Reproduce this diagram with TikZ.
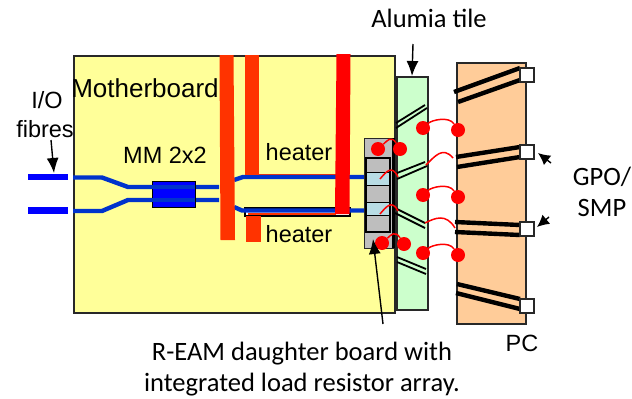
\documentclass[tikz,border=0pt]{standalone}
\usepackage{fontspec}
\setmainfont{Liberation Sans}
\newfontfamily\notefont{Carlito}
\usetikzlibrary{arrows.meta,calc}
\definecolor{boardyellow}{RGB}{255,255,153}
\definecolor{tilegreen}{RGB}{204,255,204}
\definecolor{pcorange}{RGB}{255,204,153}
\definecolor{edgegray}{RGB}{40,40,40}
\definecolor{heaterorange}{RGB}{255,51,0}
\definecolor{fibreblue}{RGB}{0,51,204}
\definecolor{cellblue}{RGB}{184,220,228}
\definecolor{cellgray}{RGB}{190,190,190}

\begin{document}
\begin{tikzpicture}[
  x=1pt, y=-1pt,
  lbl/.style={font=\fontsize{23.5}{29}\selectfont, inner sep=0pt, align=center},
  note/.style={font=\notefont\fontsize{26.5}{31.5}\selectfont, inner sep=0pt, align=center},
  plate/.style={draw=edgegray, line width=1.6pt, anchor=north west, inner sep=0pt, minimum width=#1},
  arr/.style={-{Latex[length=15pt,width=12pt]}, line width=1.4pt},
  arrshort/.style={-{Latex[length=12pt,width=12pt]}, line width=1.4pt},
  fibre/.style={fibreblue, line width=4.4pt},
  strip/.style={black, line width=4.4pt},
  wire/.style={red, line width=1.5pt},
  joint/.style={circle, fill=red, inner sep=0pt, minimum size=14pt},
  port/.style={draw=edgegray, fill=white, line width=1.4pt, inner sep=0pt, minimum size=14pt},
  cell/.style={draw=black, line width=1.2pt, inner sep=0pt, minimum width=24pt, minimum height=#1, anchor=north west}
]
\useasboundingbox (0,0) rectangle (632,399);

% base plates
\node[plate=321pt, minimum height=257pt, fill=boardyellow] (board) at (73,55) {};
\node[plate=31pt, minimum height=233pt, fill=tilegreen] (tile) at (396,76) {};
\node[plate=69pt, minimum height=261pt, fill=pcorange] (pc) at (456,62) {};

% fibres on the motherboard
\fill[blue] (28,173.5) rectangle (68,180);
\fill[blue] (28,207) rectangle (68,213.5);
\draw[fibre] (73,177.5) -- (102,177.5) -- (128,187) -- (219,187);
\draw[fibre] (73,211) -- (102,211) -- (128,200) -- (219,200);
\draw[heaterorange, line width=1.2pt] (259,174.5) -- (336,174.5);
\draw[black, line width=1.4pt, fill=white] (245,208) rectangle (350,216);
\draw[heaterorange, line width=1.2pt] (248,214) -- (336,214);
\draw[fibre] (234,180) -- (243,177) -- (365,177);
\draw[fibre] (234,207) -- (242,210.5) -- (365,210.5);
\node[draw=black, fill=blue, line width=1.2pt, inner sep=0pt, minimum width=43pt, minimum height=26pt, anchor=north west] (coupler) at (152,181) {};
\draw[fibre] (152,187) -- (195,187);
\draw[fibre] (152,200) -- (195,200);

% heaters
\fill[heaterorange] (219.5,55) -- (233.5,55) -- (235,240) -- (220.5,240) -- cycle;
\fill[heaterorange] (245,55) -- (259,55) -- (259,175) -- (245,175) -- cycle;
\fill[heaterorange] (246,216) -- (261,216) -- (261,242) -- (246,242) -- cycle;
\fill[red] (336.5,54) -- (350.5,54) -- (349.5,214) -- (335,214) -- cycle;

% daughter board
\node[draw=edgegray, fill=cellgray, line width=1.4pt, inner sep=0pt, minimum width=30pt, minimum height=110pt, anchor=north west] (daughter) at (364,138) {};
\fill[black] (392,138) rectangle (394.5,248);
\node[cell=14pt, fill=cellgray] (c1) at (366,158) {};
\node[cell=13pt, fill=cellblue] (c2) at (366,172) {};
\node[cell=17pt, fill=cellgray] (c3) at (366,185) {};
\node[cell=13pt, fill=cellblue] (c4) at (366,202) {};
\node[cell=17pt, fill=cellgray] (c5) at (366,215) {};
\draw[black, line width=1.6pt] (366,158) rectangle (390,232);

% strips on the tile and the PC
\foreach \xa/\ya/\xb/\yb in {396/123/425/105, 396/128/427/108, 397/173/425/162, 397/179/427/166,
    395/208/425/223, 395/213/425/228, 397/257/426/269, 397/262/426/274}
  \draw[black, line width=1.8pt] (\xa,\ya) -- (\xb,\yb);
\foreach \xa/\ya/\xb/\yb in {454/92/520/68, 458/102/520/80, 456/157/520/147, 457/167/520/157,
    455/222/520/225, 455/232/520/235, 457/284/520/299, 456/293/520/309}
  \draw[strip] (\xa,\ya) -- (\xb,\yb);
\node[port] (p1) at (527,75) {};
\node[port] (p2) at (527,152) {};
\node[port] (p3) at (527,229) {};
\node[port] (p4) at (527,306) {};

% bond wires
\foreach \name/\xa/\ya/\xb/\yb in {a/423/128/458/130, b/378/149/400/149, c/423/195/458/197, d/423/253/458/255, e/382/243/404/244} {
  \node[joint] (\name1) at (\xa,\ya) {};
  \node[joint] (\name2) at (\xb,\yb) {};
  \draw[wire] (\name1) .. controls ($(\name1)+(9,-8)$) and ($(\name2)+(-9,-14)$) .. (\name2);
}
\draw[wire] (426,165) .. controls (435,156) and (443,146) .. (453,158);
\draw[wire] (425,223) .. controls (435,218) and (446,213) .. (455,228);
\draw[wire] (380,179) .. controls (386,172) and (392,164) .. (398,177);
\draw[wire] (380,214) .. controls (386,207) and (392,199) .. (398,211);

% labels
\node[note] (alumia) at (429,18) {Alumia tile};
\node[lbl] (iolabel) at (47,100) {I/O};
\node[lbl] (fibres) at (45,129) {fibres};
\node[lbl, font=\fontsize{26}{29}\selectfont] (mboard) at (145,88) {Motherboard};
\node[lbl] (mm) at (165,155) {MM 2x2};
\node[lbl] (heatertop) at (299,152) {heater};
\node[lbl] (heaterlow) at (299,234) {heater};
\node[note] (gpo) at (602,192) {GPO/\\SMP};
\node[lbl] (pclabel) at (522,343) {PC};
\node[note] (ream) at (302,369) {R-EAM daughter board with\\integrated load resistor array.};

% pointers
\coordinate (alumiatail) at (413,44);
\coordinate (fibretail) at (51,140);
\coordinate (reamtail) at (383,324);
\coordinate (gpotop) at (551,163);
\coordinate (gpolow) at (549,217);
\draw[arr] (alumiatail) -- (412,76);
\draw[arr] (fibretail) -- (54,173);
\draw[arr] (reamtail) -- (373,239);
\draw[arrshort] (gpotop) -- (538,153);
\draw[arrshort] (gpolow) -- (537,227);
\end{tikzpicture}
\end{document}
